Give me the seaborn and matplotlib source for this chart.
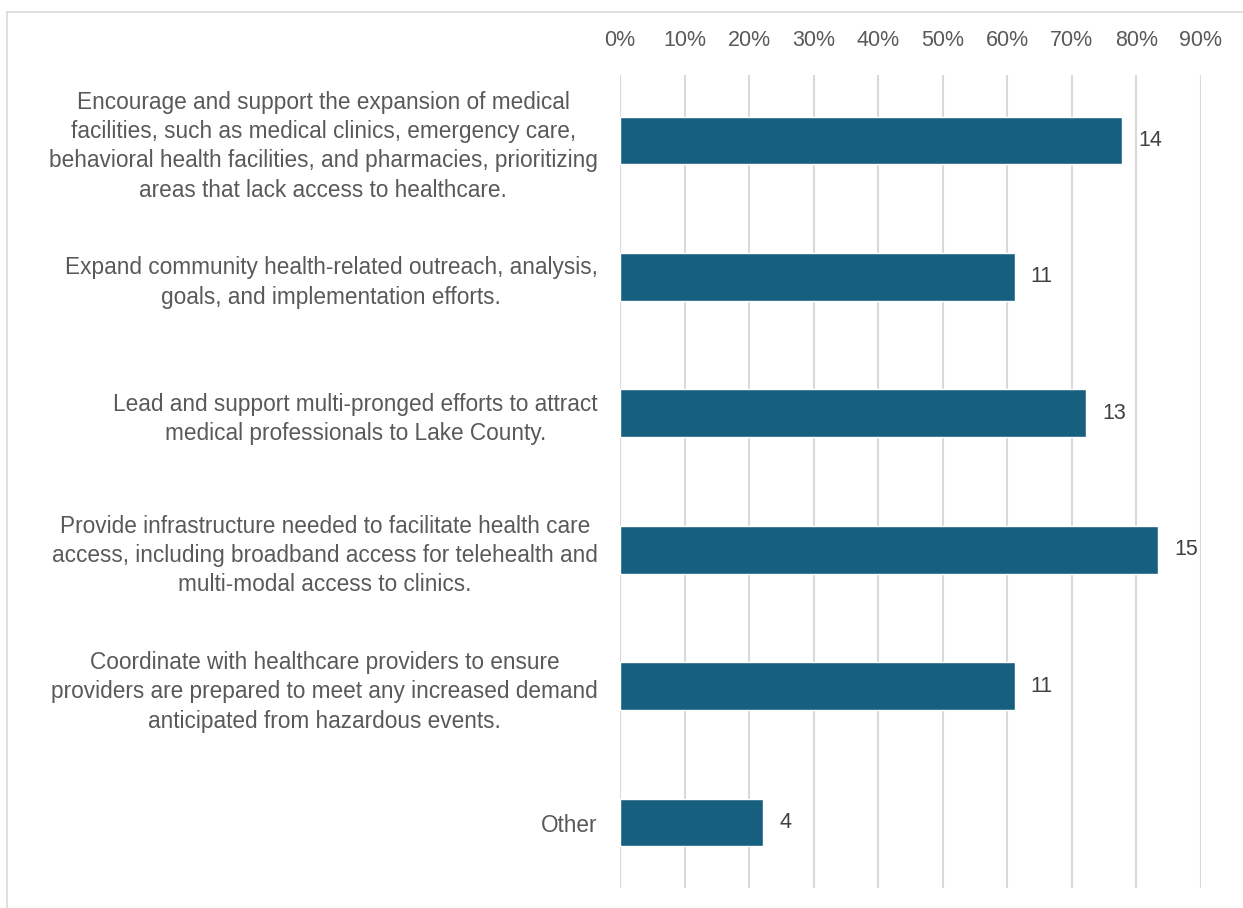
import matplotlib.pyplot as plt
import pandas as pd
import seaborn as sns
from matplotlib.lines import Line2D
from matplotlib.ticker import PercentFormatter


CATEGORIES = [
    "Encourage and support the expansion of medical\n"
    "facilities, such as medical clinics, emergency care,\n"
    "behavioral health facilities, and pharmacies, prioritizing\n"
    "areas that lack access to healthcare.",
    "Expand community health-related outreach, analysis,\n"
    "goals, and implementation efforts.",
    "Lead and support multi-pronged efforts to attract\n"
    "medical professionals to Lake County.",
    "Provide infrastructure needed to facilitate health care\n"
    "access, including broadband access for telehealth and\n"
    "multi-modal access to clinics.",
    "Coordinate with healthcare providers to ensure\n"
    "providers are prepared to meet any increased demand\n"
    "anticipated from hazardous events.",
    "Other",
]
COUNTS = [14, 11, 13, 15, 11, 4]
RESPONDENTS = 18
X_TICKS = [0.0, 0.1, 0.2, 0.3, 0.4, 0.5, 0.6, 0.7, 0.8, 0.9]

BAR_COLOR = "#175F7F"
TEXT_COLOR = "#595959"
GRID_COLOR = "#D9D9D9"


def main() -> None:
    sns.set_theme(style="white")
    plt.rcParams["font.family"] = ["Liberation Sans", "DejaVu Sans"]

    df = pd.DataFrame({"category": CATEGORIES, "count": COUNTS})
    df["share"] = df["count"] / RESPONDENTS

    fig = plt.figure(figsize=(12.43, 9.08), dpi=100)
    ax = fig.add_axes([620 / 1243, 20 / 908, 581 / 1243, 813 / 908])

    sns.barplot(data=df, x="share", y="category", orient="h", color=BAR_COLOR,
                saturation=1, width=0.35, ax=ax, zorder=3)

    ax.set_xlim(0, 0.9)
    ax.set_ylim(5.48, -0.48)
    ax.set_xticks(X_TICKS)
    ax.xaxis.set_major_formatter(PercentFormatter(1.0, decimals=0))
    ax.xaxis.tick_top()
    ax.tick_params(axis="x", length=0, pad=17, labelsize=15.5, labelcolor=TEXT_COLOR)
    ax.tick_params(axis="y", length=0, pad=16, labelsize=16.3, labelcolor=TEXT_COLOR)
    for lbl in ax.get_yticklabels():
        lbl.set_multialignment("center")
        lbl.set_linespacing(1.35)
    ax.grid(axis="x", color=GRID_COLOR, linewidth=1.5, zorder=0)
    ax.grid(axis="y", visible=False)
    for spine in ax.spines.values():
        spine.set_visible(False)
    ax.set_xlabel("")
    ax.set_ylabel("")

    for i, (share, cnt) in enumerate(zip(df["share"], df["count"])):
        ax.annotate(str(cnt), (share, i), xytext=(16, 0), textcoords="offset pixels",
                    va="center", ha="left", fontsize=15.5, color="#404040",
                    annotation_clip=False)

    # chart area border (left and top edges visible)
    fig.add_artist(Line2D([7 / 1243, 7 / 1243], [0, 1 - 12 / 908], color=GRID_COLOR,
                          linewidth=1.2, transform=fig.transFigure))
    fig.add_artist(Line2D([7 / 1243, 1], [1 - 12 / 908, 1 - 12 / 908], color=GRID_COLOR,
                          linewidth=1.2, transform=fig.transFigure))

    fig.savefig("out.png", dpi=100, facecolor="white")
    plt.close(fig)


if __name__ == "__main__":
    main()
